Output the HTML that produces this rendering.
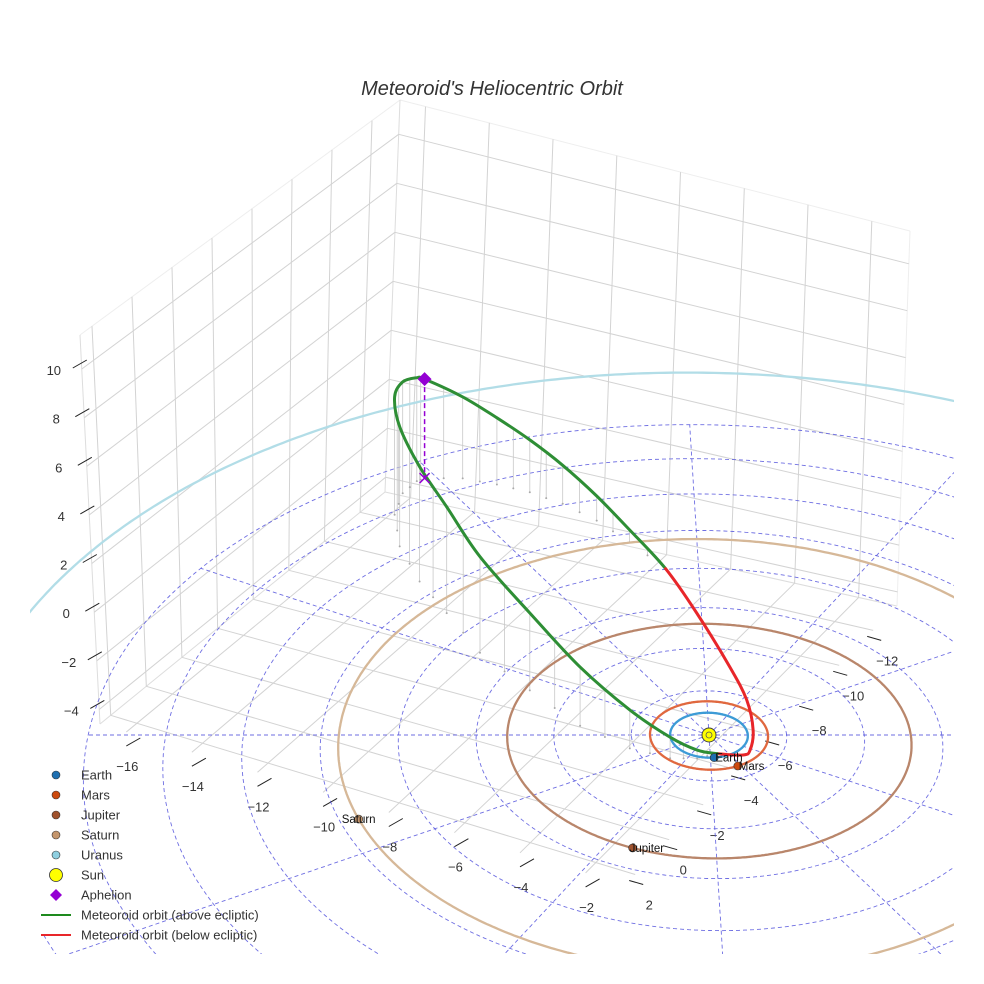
<!DOCTYPE html>
<html><head><meta charset="utf-8">
<style>
html,body{margin:0;padding:0;background:#fff;width:984px;height:984px;overflow:hidden;}
svg{display:block;font-family:"Liberation Sans",Arial,sans-serif;}
</style></head>
<body>
<svg id="chart" width="984" height="984" viewBox="0 0 984 984" xmlns="http://www.w3.org/2000/svg">
  <defs><clipPath id="eclClip"><rect x="30" y="0" width="924" height="954"/></clipPath></defs>
  <rect x="0" y="0" width="984" height="984" fill="#fff"/>
  <text x="492" y="95" text-anchor="middle" font-size="20" font-style="italic" fill="#333">Meteoroid's Heliocentric Orbit</text>
  <g id="box"></g>
  <g id="ticks"></g>
  <g id="ecl" clip-path="url(#eclClip)"></g>
  <g id="marks" clip-path="url(#eclClip)"></g>
  <g id="legend"></g>
</svg>
<script>
// ---------- data ----------
const xTicks = [-16,-14,-12,-10,-8,-6,-4,-2];
const yTicks = [-12,-10,-8,-6,-4,-2,0,2];
const zTicks = [-4,-2,0,2,4,6,8,10];
const planetNames = ["Earth","Mars","Jupiter","Saturn","Uranus"];
const planetRadius = [1.0,1.52,5.2,9.54,19.2];
const planetAngleDeg = [-84.5,-63.3,-113.2,-157.8,30];
const ringRadius = [2,4,6,8,10,12,14,16,18,20,22,24];
const spokeAngleDeg = [0,30,60,90,120,150,180,210,240,270,300,330];
// meteoroid orbit samples (AU, ecliptic frame)
const orbitX = [-7.81,-6.70,-5.70,-4.74,-3.79,-2.82,-1.90,-0.92,-0.11,0.71,1.10,1.20,1.07,0.87,0.18,-0.34,-1.03,-2.05,-3.32,-4.64,-5.99,-6.94,-7.74,-8.37,-8.59,-8.41,-8.03];
const orbitY = [12.89,12.87,12.53,12.09,11.45,10.53,9.37,7.98,6.31,4.13,2.76,1.32,0.21,-0.21,-0.82,-1.04,-1.02,-0.59,0.41,2.02,3.79,5.73,7.32,9.15,10.85,12.04,12.72];
const orbitZ = [4.47,3.68,3.00,2.35,1.72,1.09,0.54,0.0,-0.49,-0.89,-1.05,-0.98,-0.79,-0.61,0.0,0.34,0.83,1.53,2.36,3.16,3.99,4.49,4.93,5.22,5.22,4.99,4.66];
const aphelionIndex = 0;

const NS = "http://www.w3.org/2000/svg";
function mk(tag, attrs, parent){ const e=document.createElementNS(NS,tag); for(const k in attrs) e.setAttribute(k,attrs[k]); parent.appendChild(e); return e; }

// ---------- box projection ----------
const XMIN=-16.8,XMAX=-0.8,YMIN=-13.4,YMAX=2.6,ZMIN=-4.6,ZMAX=11.4;
const fL=[100,724],fB=[385,492],fR=[897,606],fF=[625,885];
const tL=[80,335],tB=[400,100],tR=[910,231],tF=[621,503];
function bil(c00,c10,c01,c11,a,b){
  return [c00[0]*(1-a)*(1-b)+c10[0]*a*(1-b)+c01[0]*(1-a)*b+c11[0]*a*b,
          c00[1]*(1-a)*(1-b)+c10[1]*a*(1-b)+c01[1]*(1-a)*b+c11[1]*a*b];
}
function boxP(x,y,z){
  const a=(x-XMIN)/(XMAX-XMIN), b=(y-YMIN)/(YMAX-YMIN), c=(z-ZMIN)/(ZMAX-ZMIN);
  const f=bil(fB,fR,fL,fF,a,b), t=bil(tB,tR,tL,tF,a,b);
  return [f[0]*(1-c)+t[0]*c, f[1]*(1-c)+t[1]*c];
}
const box=document.getElementById('box');
function gl(p,q,name,col){
  const l=mk('line',{x1:p[0].toFixed(1),y1:p[1].toFixed(1),x2:q[0].toFixed(1),y2:q[1].toFixed(1),stroke:col||'#d3d3d3','stroke-width':1},box);
  
  
}
gl(boxP(XMIN,YMAX,ZMIN),boxP(XMIN,YMIN,ZMIN),'floor-edge','#ddd');
gl(boxP(XMIN,YMIN,ZMIN),boxP(XMAX,YMIN,ZMIN),'floor-edge','#ddd');
gl(boxP(XMIN,YMAX,ZMAX),boxP(XMIN,YMIN,ZMAX),'wall-edge','#eee');
gl(boxP(XMIN,YMIN,ZMAX),boxP(XMAX,YMIN,ZMAX),'wall-edge','#eee');
gl(boxP(XMIN,YMAX,ZMIN),boxP(XMIN,YMAX,ZMAX),'wall-edge','#ddd');
gl(boxP(XMIN,YMIN,ZMIN),boxP(XMIN,YMIN,ZMAX),'wall-edge','#ddd');
gl(boxP(XMAX,YMIN,ZMIN),boxP(XMAX,YMIN,ZMAX),'wall-edge','#eee');
xTicks.forEach(x=>{
  gl(boxP(x,YMIN,ZMIN),boxP(x,YMAX,ZMIN),'floor-gridline-x');
  gl(boxP(x,YMIN,ZMIN),boxP(x,YMIN,ZMAX),'back-wall-gridline-x');
});
yTicks.forEach(y=>{
  gl(boxP(XMIN,y,ZMIN),boxP(XMAX,y,ZMIN),'floor-gridline-y');
  gl(boxP(XMIN,y,ZMIN),boxP(XMIN,y,ZMAX),'left-wall-gridline-y');
});
zTicks.forEach(z=>{
  gl(boxP(XMIN,YMIN,z),boxP(XMIN,YMAX,z),'left-wall-gridline-z');
  gl(boxP(XMIN,YMIN,z),boxP(XMAX,YMIN,z),'back-wall-gridline-z');
});
const tk=document.getElementById('ticks');
function tickLabel(p,off,tOff,tDir,txt,name){
  const lx=p[0]+off[0], ly=p[1]+off[1];
  const t=mk('text',{x:lx.toFixed(1),y:(ly+5).toFixed(1),'text-anchor':'middle','font-size':13,fill:'#333'},tk);
  t.textContent=txt;
  
  
  const cx=lx+tOff[0], cy=ly+tOff[1];
  const m=mk('line',{x1:(cx-tDir[0]).toFixed(1),y1:(cy-tDir[1]).toFixed(1),x2:(cx+tDir[0]).toFixed(1),y2:(cy+tDir[1]).toFixed(1),stroke:'#222','stroke-width':1},tk);
  
  
}
function fmt(v){ return v<0 ? '\u2212'+Math.abs(v) : String(v); }
xTicks.forEach(x=>tickLabel(boxP(x,YMAX,ZMIN),[1,34],[6,-24],[7,-4],fmt(x),'x-tick-label'));
yTicks.forEach(y=>tickLabel(boxP(XMAX,y,ZMIN),[14,30],[-13,-22],[7,2],fmt(y),'y-tick-label'));
zTicks.forEach(z=>tickLabel(boxP(XMIN,YMAX,z),[-28,1],[26,-6],[7,-4],fmt(z),'z-tick-label'));

// ---------- ecliptic projection (mild perspective) ----------
const CX=709,CY=735,KX=38.8,KY=22.5,KZ=25,PP=0.01,SK=1.4,GRIDLIM=16.1;
function ecl(u,y,z){ const s=1/(1+PP*y); return [CX+s*(KX*u-SK*y), CY-s*(KY*y+KZ*z)]; }
const eg=document.getElementById('ecl');
function ptsStr(arr){ return arr.map(p=>p[0].toFixed(1)+','+p[1].toFixed(1)).join(' '); }
function onScreen(p){ return p[0]>=20 && p[0]<=964 && p[1]>=0 && p[1]<=962; }
function splitVisible(pts){
  const out=[]; let cur=[];
  pts.forEach(p=>{ if(onScreen(p)) cur.push(p); else { if(cur.length>1) out.push(cur); cur=[]; } });
  if(cur.length>1) out.push(cur);
  return out;
}
function gridOk(u,y){
  if(u < -GRIDLIM) return false;
  if(y > 0 && Math.hypot(u,y) > 16.2) return false;
  return true;
}
function drawGrid(uv,name){
  const out=[]; let cur=[];
  uv.forEach(q=>{
    const p=ecl(q[0],q[1],0);
    if(gridOk(q[0],q[1]) && onScreen(p)) cur.push(p);
    else { if(cur.length>1) out.push(cur); cur=[]; }
  });
  if(cur.length>1) out.push(cur);
  out.forEach(seg=>{
    const pl=mk('polyline',{points:ptsStr(seg),fill:'none',stroke:'#5555dd','stroke-width':0.9,'stroke-dasharray':'4,3','stroke-opacity':0.85},eg);
    
    
  });
}
ringRadius.forEach(r=>{
  const uv=[]; for(let i=0;i<=720;i++){const t=i*Math.PI/360; uv.push([r*Math.cos(t),r*Math.sin(t)]);}
  drawGrid(uv,'ecliptic-ring');
});
spokeAngleDeg.forEach(a=>{
  const t=a*Math.PI/180, uv=[];
  for(let r=0;r<=40;r+=0.25) uv.push([r*Math.cos(t),r*Math.sin(t)]);
  drawGrid(uv,'ecliptic-spoke');
});
// drop lines
for(let i=0;i<orbitX.length;i++){
  const j=(i+1)%orbitX.length;
  const samples=[[orbitX[i],orbitY[i],orbitZ[i]],[(orbitX[i]+orbitX[j])/2,(orbitY[i]+orbitY[j])/2,(orbitZ[i]+orbitZ[j])/2]];
  samples.forEach((s,k)=>{
    if(s[2]>0.15 && !(i===aphelionIndex && k===0)){
      const p=ecl(s[0],s[1],s[2]), q=ecl(s[0],s[1],0);
      const l=mk('line',{x1:p[0].toFixed(1),y1:p[1].toFixed(1),x2:q[0].toFixed(1),y2:q[1].toFixed(1),stroke:'#c8c8c8','stroke-width':0.8},eg);
      
      
      const d=mk('circle',{cx:q[0].toFixed(1),cy:q[1].toFixed(1),r:1,fill:'#aaa'},eg);
      
      
    }
  });
}
// planet orbits
const orbitCols=['#3d9bd6','#e0683f','#b9866b','#d6b898','#b2dde7'];
const markCols=['#1f6fb0','#cc4a0e','#a0522d','#c4956c','#8ecfe0'];
const labelDx=[1,1,-3,-17,1];
planetRadius.forEach((r,i)=>{
  const pts=[]; for(let k=0;k<=720;k++){const t=k*Math.PI/360; pts.push(ecl(r*Math.cos(t),r*Math.sin(t),0));}
  splitVisible(pts).forEach(seg=>{
    const pl=mk('polyline',{points:ptsStr(seg),fill:'none',stroke:orbitCols[i],'stroke-width':2.3},eg);
    
    
  });
});

// ---------- meteoroid orbit ----------
const mg=document.getElementById('marks');
const N=orbitX.length;
const P3=[]; for(let i=0;i<N;i++) P3.push(ecl(orbitX[i],orbitY[i],orbitZ[i]));
function segBez(i){
  const p0=P3[(i-1+N)%N],p1=P3[i],p2=P3[(i+1)%N],p3=P3[(i+2)%N];
  const c1=[p1[0]+(p2[0]-p0[0])/6,p1[1]+(p2[1]-p0[1])/6];
  const c2=[p2[0]-(p3[0]-p1[0])/6,p2[1]-(p3[1]-p1[1])/6];
  return ' C'+c1[0].toFixed(1)+','+c1[1].toFixed(1)+' '+c2[0].toFixed(1)+','+c2[1].toFixed(1)+' '+p2[0].toFixed(1)+','+p2[1].toFixed(1);
}
let runs=[], cur=null;
for(let i=0;i<N;i++){
  const j=(i+1)%N; const below=(orbitZ[i]+orbitZ[j])/2<0;
  if(!cur||cur.below!==below){ cur={below:below,d:'M'+P3[i][0].toFixed(1)+','+P3[i][1].toFixed(1)}; runs.push(cur); }
  cur.d+=segBez(i);
}
runs.forEach(r=>{
  const p=mk('path',{d:r.d,fill:'none',stroke:r.below?'#e8262a':'#2e8e35','stroke-width':3,'stroke-linecap':'round'},mg);
  
  
});
const ap=P3[aphelionIndex], apf=ecl(orbitX[aphelionIndex],orbitY[aphelionIndex],0);
const apl=mk('line',{x1:ap[0],y1:ap[1],x2:apf[0],y2:apf[1],stroke:'#9400d3','stroke-width':1.5,'stroke-dasharray':'5,3'},mg);


const apx=mk('path',{d:`M${apf[0]-5},${apf[1]-5}L${apf[0]+5},${apf[1]+5}M${apf[0]-5},${apf[1]+5}L${apf[0]+5},${apf[1]-5}`,stroke:'#9400d3','stroke-width':1.5},mg);


const apd=mk('path',{d:`M${ap[0]},${ap[1]-7}L${ap[0]+7},${ap[1]}L${ap[0]},${ap[1]+7}L${ap[0]-7},${ap[1]}Z`,fill:'#9400d3'},mg);


const sp=ecl(0,0,0);
const sun=mk('circle',{cx:sp[0],cy:sp[1],r:7,fill:'#ffff00',stroke:'#444','stroke-width':1},mg);


const sun2=mk('circle',{cx:sp[0],cy:sp[1],r:3,fill:'none',stroke:'#555','stroke-width':0.8},mg);


planetRadius.forEach((r,i)=>{
  const t=planetAngleDeg[i]*Math.PI/180;
  const p=ecl(r*Math.cos(t),r*Math.sin(t),0);
  if(!onScreen(p)) return;
  const c=mk('circle',{cx:p[0].toFixed(1),cy:p[1].toFixed(1),r:4,fill:markCols[i],stroke:'#333','stroke-width':0.6},mg);
  
  
  const tx=mk('text',{x:(p[0]+labelDx[i]).toFixed(1),y:(p[1]+4).toFixed(1),'font-size':11.5,fill:'#111'},mg);
  tx.textContent=planetNames[i];
  
  
});

// ---------- legend ----------
const lg=document.getElementById('legend');
const legendLabels=["Earth","Mars","Jupiter","Saturn","Uranus","Sun","Aphelion","Meteoroid orbit (above ecliptic)","Meteoroid orbit (below ecliptic)"];
const legendY=[775,795,815,835,855,875,895,915,935];
legendLabels.forEach((lab,i)=>{
  const y=legendY[i];
  let m;
  if(i<5) m=mk('circle',{cx:56,cy:y,r:4,fill:markCols[i],stroke:'#333','stroke-width':0.6},lg);
  else if(i===5) m=mk('circle',{cx:56,cy:y,r:6.5,fill:'#ffff00',stroke:'#333','stroke-width':0.8},lg);
  else if(i===6) m=mk('path',{d:`M56,${y-6}L62,${y}L56,${y+6}L50,${y}Z`,fill:'#9400d3'},lg);
  else m=mk('line',{x1:41,y1:y,x2:71,y2:y,stroke:i===7?'#1e8a1e':'#e8262a','stroke-width':2},lg);
  
  
  const t=mk('text',{x:81,y:y+4.5,'font-size':13,fill:'#333'},lg);
  t.textContent=lab;
  
  
});
</script>
</body></html>
